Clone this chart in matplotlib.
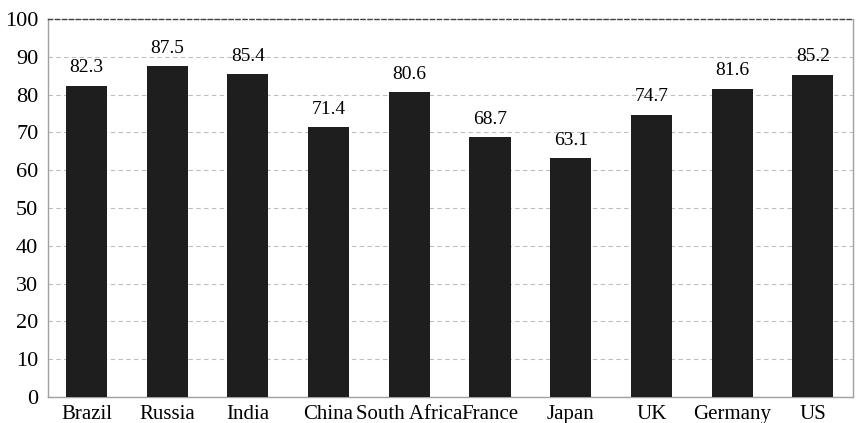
import matplotlib
matplotlib.use("Agg")
import matplotlib.pyplot as plt

countries = ["Brazil", "Russia", "India", "China", "South Africa",
             "France", "Japan", "UK", "Germany", "US"]
values = [82.3, 87.5, 85.4, 71.4, 80.6, 68.7, 63.1, 74.7, 81.6, 85.2]
yticks = [0, 10, 20, 30, 40, 50, 60, 70, 80, 90, 100]

plt.rcParams["font.family"] = ["Liberation Serif", "DejaVu Serif"]

fig = plt.figure(figsize=(8.57, 4.23), dpi=100)
ax = fig.add_axes([48 / 857, 26 / 423, 805 / 857, 378 / 423])

x = range(len(countries))
bars = ax.bar(x, values, width=0.51, color="#1e1e1e", zorder=3)
for xi, v in zip(x, values):
    ax.text(xi, v + 2.5, f"{v:.1f}", ha="center", va="bottom", fontsize=14, zorder=4)

ax.set_xlim(-0.477, 9.498)
ax.set_ylim(0, 100)
ax.set_yticks(yticks)
ax.set_yticklabels([str(t) for t in yticks], fontsize=16)
ax.set_xticks(list(x))
ax.set_xticklabels(countries, fontsize=15)
ax.tick_params(axis="both", length=0)
ax.tick_params(axis="y", pad=7)
ax.tick_params(axis="x", pad=6)

ax.yaxis.grid(True, linestyle=(0, (4, 3)), color="#bdbdbd", linewidth=0.8, zorder=0)
for side in ("left", "bottom", "right"):
    ax.spines[side].set_color("#a0a0a0")
    ax.spines[side].set_linewidth(1.0)
ax.spines["top"].set_linestyle((0, (3, 2)))
ax.spines["top"].set_color("#404040")
ax.spines["top"].set_linewidth(1.0)

fig.savefig("out.png", dpi=100)
